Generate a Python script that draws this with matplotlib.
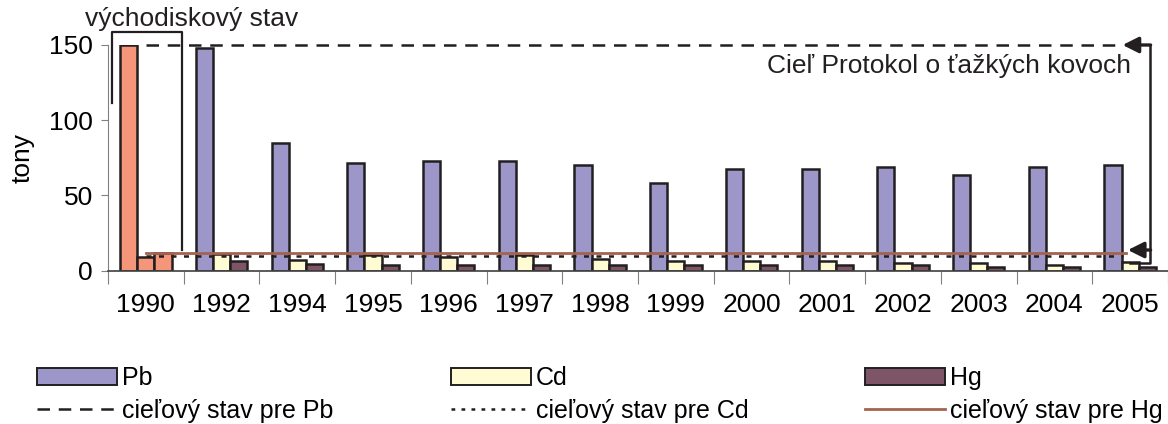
import numpy as np
import matplotlib
matplotlib.use("Agg")
import matplotlib.pyplot as plt
from matplotlib.patches import Patch
from matplotlib.lines import Line2D

years = ['1990', '1992', '1994', '1995', '1996', '1997', '1998',
         '1999', '2000', '2001', '2002', '2003', '2004', '2005']
pb = [150, 148, 85, 71.4, 72.7, 72.7, 70.2, 58.3, 67.4, 67.4, 68.9, 63.6, 68.9, 70.2]
cd = [9.3, 10.9, 6.9, 10.4, 9.3, 10.4, 7.8, 6.4, 6.6, 6.6, 5.1, 5.1, 4.0, 6.0]
hg = [11.5, 6.6, 4.2, 4.0, 4.0, 4.0, 4.0, 4.0, 4.0, 4.0, 4.0, 2.7, 2.7, 2.7]
target_pb = 150
target_cd = 10
target_hg = 12

plt.rcParams['font.family'] = ['Liberation Sans', 'DejaVu Sans']

c_pb = '#9D97C9'
c_cd = '#FFFCD4'
c_hg = '#7E5567'
c_base = '#F5967A'
c_hgline = '#A3634F'
edge = '#231F20'
fs = 19

fig = plt.figure(figsize=(11.68, 4.24), dpi=100)
ax = fig.add_axes([108 / 1168, 1 - 270.7 / 424, 1 - 108 / 1168, 225.7 / 424])

x = np.arange(len(years))
w = 0.227
cols_pb = [c_base] + [c_pb] * (len(years) - 1)
cols_cd = [c_base] + [c_cd] * (len(years) - 1)
cols_hg = [c_base] + [c_hg] * (len(years) - 1)
ax.bar(x - w, pb, w, color=cols_pb, edgecolor=edge, linewidth=1.8, zorder=2)
ax.bar(x, cd, w, color=cols_cd, edgecolor=edge, linewidth=1.8, zorder=2)
ax.bar(x + w, hg, w, color=cols_hg, edgecolor=edge, linewidth=1.8, zorder=2)

# target lines
ax.plot([0, 12.9], [target_pb, target_pb], color='#231F20', lw=1.8,
        dashes=(5, 3.5), clip_on=False, zorder=3)
ax.plot([0, 12.9], [target_cd, target_cd], color='#231F20', lw=1.8,
        dashes=(2, 3), zorder=3)
ax.plot([0, 12.95], [target_hg, target_hg], color=c_hgline, lw=2, zorder=3)

# bracket on the right with arrows
ax.plot([13.0, 13.26, 13.26], [5.3, 5.3, 150], color=edge, lw=1.8,
        clip_on=False, zorder=4)
ax.annotate('', xy=(12.9, 150), xytext=(13.27, 150),
            arrowprops=dict(arrowstyle='-|>', color=edge, lw=2.4,
                            mutation_scale=24, shrinkA=0, shrinkB=0),
            annotation_clip=False)
ax.annotate('', xy=(12.97, 13.75), xytext=(13.27, 13.75),
            arrowprops=dict(arrowstyle='-|>', color=edge, lw=2.4,
                            mutation_scale=24, shrinkA=0, shrinkB=0),
            annotation_clip=False)
ax.text(13.01, 136.2, 'Cieľ Protokol o ťažkých kovoch', ha='right',
        va='center', fontsize=fs, color=edge)

# baseline bracket
ax.plot([-0.448, -0.448, 0.48, 0.48], [111.4, 158.6, 158.6, 13.8],
        color=edge, lw=1.6, clip_on=False, zorder=4)
ax.text(0.6, 167, 'východiskový stav', ha='center', va='center',
        fontsize=fs, color=edge)

ax.set_xlim(-0.5, 13.32)
ax.set_ylim(0, 150)
ax.set_yticks([0, 50, 100, 150])
ax.tick_params(axis='y', labelsize=fs, length=5, color='#808080', pad=6)
ax.set_xticks(np.arange(-0.5, 14, 1))
ax.set_xticklabels([])
ax.tick_params(axis='x', which='major', length=9, color='#808080', direction='out')
ax.set_xticks(x, minor=True)
ax.set_xticklabels(years, minor=True, fontsize=fs)
ax.tick_params(axis='x', which='minor', length=0, pad=16)
ax.set_ylabel('tony', fontsize=fs, labelpad=10)
for s in ['top', 'right']:
    ax.spines[s].set_visible(False)
ax.spines['left'].set_color('#808080')
ax.spines['bottom'].set_color('#404040')
ax.spines['bottom'].set_linewidth(1.2)

# legend, three columns placed by hand
entries = [
    (Patch(facecolor=c_pb, edgecolor=edge, lw=1.4), 'Pb',
     Line2D([], [], color=edge, lw=1.8, dashes=(5, 3.5)), 'cieľový stav pre Pb'),
    (Patch(facecolor=c_cd, edgecolor=edge, lw=1.4), 'Cd',
     Line2D([], [], color=edge, lw=1.8, dashes=(1.5, 2.5)), 'cieľový stav pre Cd'),
    (Patch(facecolor=c_hg, edgecolor=edge, lw=1.4), 'Hg',
     Line2D([], [], color=c_hgline, lw=2), 'cieľový stav pre Hg'),
]
for i, (h1, l1, h2, l2) in enumerate(entries):
    fig.legend([h1, h2], [l1, l2], loc='upper left',
               bbox_to_anchor=((37 + 414 * i) / 1168, 1 - 366 / 424),
               frameon=False, fontsize=18, handlelength=3.2,
               handleheight=0.7, handletextpad=0.2, labelspacing=0.35,
               borderpad=0, borderaxespad=0)

fig.savefig('out.png', dpi=100)
